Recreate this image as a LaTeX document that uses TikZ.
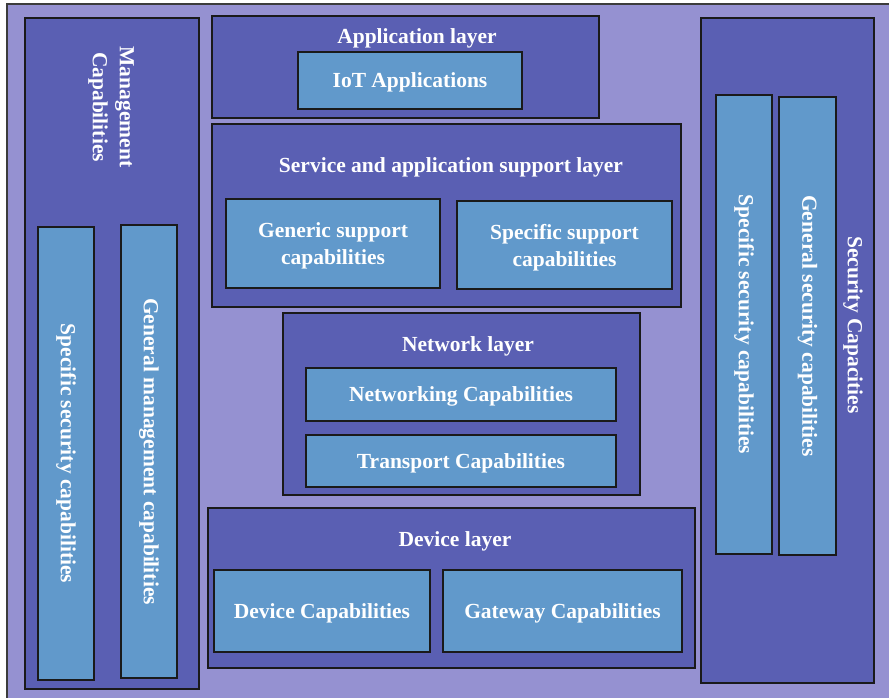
\documentclass[tikz,border=0pt]{standalone}
\usepackage{fontspec}
\setmainfont{Liberation Serif}
\definecolor{bgpurple}{HTML}{9591D1}
\definecolor{layerblue}{HTML}{5A5FB3}
\definecolor{capblue}{HTML}{6199CB}
\definecolor{edge}{HTML}{1A1A1A}
\begin{document}
\begin{tikzpicture}[x=1pt,y=-1pt,
  txt/.style={text=white, font=\fontsize{21.5}{27}\selectfont\bfseries, align=center, inner sep=0pt},
  htxt/.style={txt, text depth=0pt},
  layerbox/.style={draw=edge, line width=2pt, fill=layerblue, inner sep=0pt},
  capbox/.style={draw=edge, line width=2pt, fill=capblue, inner sep=0pt, txt},
  hcapbox/.style={capbox, text depth=0pt},
  vcapbox/.style={capbox, rotate=-90}]
\useasboundingbox (0,0) rectangle (889,697);
\fill[white] (0,0) rectangle (889,697);
% backdrop panel
\draw[fill=bgpurple, draw=edge!85, line width=1.5pt] (7,4) rectangle (900,710);

% management column
\node[layerbox, minimum width=174pt, minimum height=671pt] (mgmt) at (112,353.5) {};
\node[txt, rotate=-90] (mgmttitle) at (111,107) {Management\\Capabilities};
\node[vcapbox, minimum width=453pt, minimum height=56pt] (mspec) at (66,453.5) {Specific security capabilities};
\node[vcapbox, minimum width=453pt, minimum height=56pt] (mgen) at (149,451.5) {General management capabilities};

% application layer
\node[layerbox, minimum width=387pt, minimum height=102pt] (app) at (405.5,67) {};
\node[htxt] (apptitle) at (417,36) {Application layer};
\node[hcapbox, minimum width=224pt, minimum height=57pt] (iot) at (410,80.5) {IoT Applications};

% service and application support layer
\node[layerbox, minimum width=469pt, minimum height=183pt] (svc) at (446.5,215.5) {};
\node[htxt] (svctitle) at (451,165) {Service and application support layer};
\node[hcapbox, minimum width=214pt, minimum height=89pt] (generic) at (333,243.5) {Generic support\\capabilities};
\node[hcapbox, minimum width=215pt, minimum height=88pt] (specific) at (564.5,245) {Specific support\\capabilities};

% network layer
\node[layerbox, minimum width=357pt, minimum height=182pt] (net) at (461.5,404) {};
\node[htxt] (nettitle) at (468,344) {Network layer};
\node[hcapbox, minimum width=310pt, minimum height=53pt] (networking) at (461,394.5) {Networking Capabilities};
\node[hcapbox, minimum width=310pt, minimum height=52pt] (transport) at (461,461) {Transport Capabilities};

% device layer
\node[layerbox, minimum width=487pt, minimum height=160pt] (dev) at (451.5,588) {};
\node[htxt] (devtitle) at (455,539) {Device layer};
\node[hcapbox, minimum width=216pt, minimum height=82pt] (devcap) at (322,611) {Device Capabilities};
\node[hcapbox, minimum width=239pt, minimum height=82pt] (gateway) at (562.5,611) {Gateway Capabilities};

% security column
\node[layerbox, minimum width=173pt, minimum height=665pt] (sec) at (787.5,350.5) {};
\node[txt, rotate=-90] (sectitle) at (853,325) {Security Capacities};
\node[vcapbox, minimum width=459pt, minimum height=56pt] (sspec) at (744,324.5) {Specific security capabilities};
\node[vcapbox, minimum width=458pt, minimum height=57pt] (sgen) at (807.5,326) {General security capabilities};
\end{tikzpicture}
\end{document}
